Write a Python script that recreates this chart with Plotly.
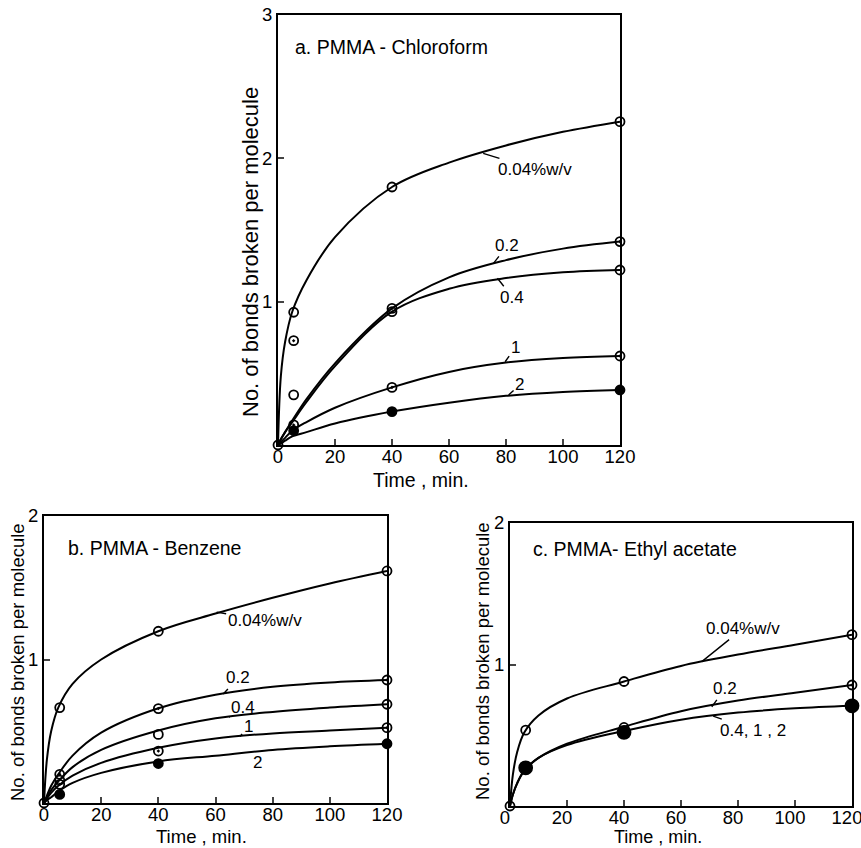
import plotly.graph_objects as go

W, H = 861, 848

# ---------------- data ----------------
t_pts = [0, 5.5, 40, 120]
t_fit = [0, 1, 2.5, 5, 10, 20, 40, 60, 80, 100, 120]
x_ticks = [0, 20, 40, 60, 80, 100, 120]

# Panel a: PMMA - Chloroform
a_pts = {
    "0.04": [0, 0.926, 1.80, 2.256],
    "0.2": [None, 0.728, 0.953, 1.419],
    "0.4": [None, 0.35, 0.93, 1.221],
    "1": [None, 0.14, 0.402, 0.621],
    "2": [None, 0.10, 0.233, 0.384],
}
a_fit = {
    "0.04": [0, 0.48, 0.72, 0.93, 1.15, 1.45, 1.80, 1.97, 2.09, 2.185, 2.256],
    "0.2": [0, 0.04, 0.09, 0.17, 0.32, 0.57, 0.953, 1.17, 1.29, 1.37, 1.419],
    "0.4": [0, 0.04, 0.09, 0.16, 0.30, 0.55, 0.93, 1.09, 1.165, 1.205, 1.221],
    "1": [0, 0.02, 0.05, 0.10, 0.16, 0.26, 0.402, 0.51, 0.575, 0.607, 0.621],
    "2": [0, 0.01, 0.03, 0.06, 0.09, 0.15, 0.233, 0.295, 0.343, 0.37, 0.384],
}

# Panel b: PMMA - Benzene
b_pts = {
    "0.04": [0, 0.665, 1.197, 1.617],
    "0.2": [None, 0.20, 0.658, 0.857],
    "0.4": [None, 0.16, 0.478, 0.688],
    "1": [None, 0.13, 0.362, 0.525],
    "2": [None, 0.06, 0.275, 0.413],
}
b_fit = {
    "0.04": [0, 0.30, 0.50, 0.665, 0.83, 1.00, 1.197, 1.32, 1.43, 1.53, 1.617],
    "0.2": [0, 0.05, 0.12, 0.20, 0.33, 0.49, 0.66, 0.755, 0.81, 0.84, 0.857],
    "0.4": [0, 0.04, 0.09, 0.15, 0.25, 0.37, 0.505, 0.59, 0.635, 0.665, 0.688],
    "1": [0, 0.03, 0.07, 0.12, 0.19, 0.28, 0.385, 0.45, 0.485, 0.505, 0.525],
    "2": [0, 0.02, 0.04, 0.08, 0.14, 0.21, 0.29, 0.33, 0.37, 0.395, 0.413],
}

# Panel c: PMMA - Ethyl acetate
c_pts = {
    "0.04": [0, 0.536, 0.88, 1.211],
    "0.2": [None, 0.28, 0.555, 0.855],
    "0.4, 1, 2": [None, 0.27, 0.52, 0.708],
}
c_fit = {
    "0.04": [0, 0.22, 0.38, 0.52, 0.64, 0.76, 0.88, 0.99, 1.07, 1.14, 1.211],
    "0.2": [0, 0.08, 0.16, 0.25, 0.34, 0.44, 0.56, 0.67, 0.745, 0.80, 0.855],
    "0.4, 1, 2": [0, 0.08, 0.16, 0.25, 0.34, 0.43, 0.53, 0.61, 0.66, 0.69, 0.708],
}

# marker style per series
mk = {
    "0.04": dict(symbol="circle-open", size=9),
    "0.2": dict(symbol="circle-open-dot", size=9),
    "0.4": dict(symbol="circle-open", size=9),
    "1": dict(symbol="circle-open-dot", size=9),
    "2": dict(symbol="circle", size=9),
    "0.4, 1, 2": dict(symbol="circle", size=13),
}

FONT = "Liberation Sans, Arial, sans-serif"


def px2paper(x, y):
    return x / W, 1 - y / H


# panel boxes in pixels (left, right, top, bottom)
boxes = {
    "a": (278, 620, 15, 445),
    "b": (44, 387, 516, 803),
    "c": (510, 852, 523, 806),
}
yranges = {"a": [0, 3], "b": [0, 2], "c": [0, 2]}
ytickv = {"a": [1, 2, 3], "b": [1, 2], "c": [1, 2]}
xshift = {"a": 0, "b": 0, "c": -5}
axid = {"a": ("x", "y"), "b": ("x2", "y2"), "c": ("x3", "y3")}

fig = go.Figure()

for key, pts, fit in (("a", a_pts, a_fit), ("b", b_pts, b_fit), ("c", c_pts, c_fit)):
    xa, ya = axid[key]
    for name in fit:
        fig.add_trace(go.Scatter(
            x=t_fit, y=fit[name], mode="lines",
            line=dict(color="black", width=2, shape="spline", smoothing=1.0),
            xaxis=xa, yaxis=ya, showlegend=False, hoverinfo="skip"))
    for name in pts:
        m = mk[name]
        fig.add_trace(go.Scatter(
            x=t_pts, y=pts[name], mode="markers",
            marker=dict(symbol=m["symbol"], size=m["size"], color="black",
                        line=dict(color="black", width=1.8)),
            xaxis=xa, yaxis=ya, showlegend=False, cliponaxis=False))

layout = dict(
    width=W, height=H, margin=dict(l=0, r=0, t=0, b=0, autoexpand=False),
    paper_bgcolor="white", plot_bgcolor="white",
    font=dict(family=FONT, color="black", size=18.5),
    showlegend=False,
)

for i, key in enumerate(("a", "b", "c")):
    l, r, t, b = boxes[key]
    x0, y1 = px2paper(l, t)
    x1, y0 = px2paper(r, b)
    sfx = "" if i == 0 else str(i + 1)
    layout["xaxis" + sfx] = dict(
        domain=[x0, x1], range=[0, 120], tickvals=x_ticks,
        ticks="inside", ticklen=6, tickwidth=1.5, showline=True, mirror=True,
        linewidth=2, linecolor="black", showgrid=False, zeroline=False,
        tickfont=dict(size=18.5), anchor="y" + sfx, fixedrange=True,
        automargin=False, ticklabelstandoff=-6, ticklabeloverflow="allow",
        ticklabelshift=xshift[key])
    layout["yaxis" + sfx] = dict(
        domain=[y0, y1], range=yranges[key], tickvals=ytickv[key],
        ticks="inside", ticklen=6, tickwidth=1.5, showline=True, mirror=True,
        linewidth=2, linecolor="black", showgrid=False, zeroline=False,
        tickfont=dict(size=18.5), anchor="x" + sfx, fixedrange=True,
        automargin=False, ticklabeloverflow="allow")

fig.update_layout(**layout)

ann = []


def ptext(text, x, y, size=18, angle=0):
    px, py = px2paper(x, y)
    ann.append(dict(text=text, x=px, y=py, xref="paper", yref="paper",
                    showarrow=False, textangle=angle,
                    font=dict(size=size, family=FONT, color="black"),
                    xanchor="center", yanchor="middle"))


# panel titles
ptext("a. PMMA - Chloroform", 391, 47, 19.5)
ptext("b. PMMA - Benzene", 154, 548, 19.5)
ptext("c. PMMA- Ethyl acetate", 635, 549, 19.5)

# axis titles
ytitle = "No. of bonds broken per molecule"
ptext(ytitle, 250, 252, 22, -90)
ptext(ytitle, 17, 662, 18.5, -90)
ptext(ytitle, 482, 661, 18.5, -90)
ptext("Time , min.", 421, 480, 19.5)
ptext("Time , min.", 201, 836, 18.5)
ptext("Time , min.", 658, 836.5, 18)

# curve labels with leader lines: (axis, t, value, text, ax, ay)
labels = [
    ("a", 72, 2.035, "0.04%w/v", 52, 16),
    ("a", 75.6, 1.267, "0.2", 14, -18),
    ("a", 77, 1.163, "0.4", 15, 19),
    ("a", 79.7, 0.581, "1", 10, -14),
    ("a", 80.9, 0.349, "2", 11, -10),
    ("b", 60.4, 1.33, "0.04%w/v", 48, 8),
    ("b", 62.7, 0.76, "0.2", 15, -16),
    ("b", 64.8, 0.597, "0.4", 14, -10),
    ("b", 68.6, 0.463, "1", 8, -10),
    ("b", 70.3, 0.34, "2", 13, 8),
    ("c", 67.3, 1.02, "0.04%w/v", 41, -33),
    ("c", 70.8, 0.70, "0.2", 13, -18),
    ("c", 71.3, 0.635, "0.4, 1 , 2", 40, 14),
]
for key, tx, vy, text, ax, ay in labels:
    xa, ya = axid[key]
    ann.append(dict(text=text, x=tx, y=vy, xref=xa, yref=ya,
                    showarrow=True, arrowhead=0, arrowwidth=1.4,
                    arrowcolor="black", ax=ax, ay=ay, standoff=0,
                    font=dict(size=17, family=FONT, color="black")))

fig.update_layout(annotations=ann)

fig.write_html(
    "out.html",
    config={"displayModeBar": False},
    post_script="document.body.style.margin='0';document.body.style.overflow='hidden';",
)
